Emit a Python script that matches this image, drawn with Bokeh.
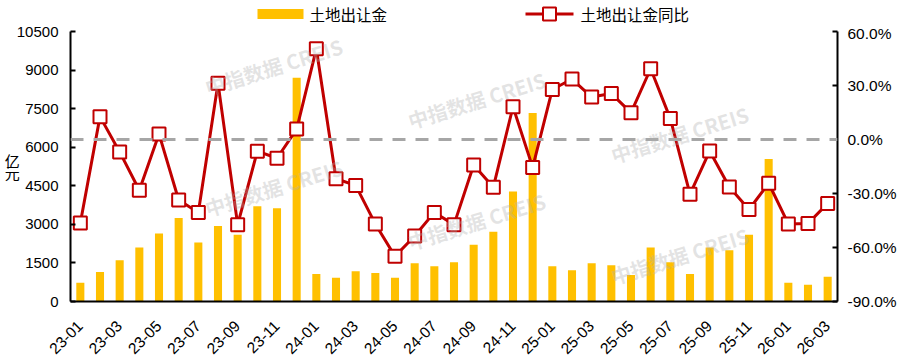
import math
from bokeh.plotting import figure
from bokeh.layouts import column
from bokeh.core.properties import value
from bokeh.models import (Range1d, LinearAxis, FixedTicker, PrintfTickFormatter,
                          Span, Label, ColumnDataSource)
from bokeh.embed import file_html
from bokeh.resources import INLINE

months = ["23-01", "23-02", "23-03", "23-04", "23-05", "23-06", "23-07", "23-08", "23-09", "23-10", "23-11", "23-12",
          "24-01", "24-02", "24-03", "24-04", "24-05", "24-06", "24-07", "24-08", "24-09", "24-10", "24-11", "24-12",
          "25-01", "25-02", "25-03", "25-04", "25-05", "25-06", "25-07", "25-08", "25-09", "25-10", "25-11", "25-12",
          "26-01", "26-02", "26-03"]
revenue = [730, 1150, 1600, 2100, 2640, 3250, 2290, 2940, 2600, 3700, 3630, 8700,
           1070, 920, 1180, 1110, 920, 1490, 1370, 1530, 2210, 2710, 4280, 7330,
           1370, 1220, 1490, 1410, 1030, 2100, 1530, 1070, 2100, 1990, 2600, 5540,
           730, 650, 960]
yoy = [-46.4, 12.7, -6.9, -28.2, 3.1, -33.6, -40.5, 31.3, -47.3, -6.5, -10.4, 5.8,
       50.4, -21.8, -25.5, -46.9, -64.9, -53.6, -40.5, -47.3, -14.2, -26.5, 18.2, -15.5,
       27.8, 33.6, 23.6, 25.5, 14.9, 39.3, 11.6, -30.4, -6.4, -26.4, -38.9, -24.3,
       -46.9, -46.7, -35.5]
left_ticks = [0, 1500, 3000, 4500, 6000, 7500, 9000, 10500]
right_ticks = [-90, -60, -30, 0, 30, 60]
bar_name = "土地出让金"
line_name = "土地出让金同比"
unit_label = "亿\n元"
watermark = "中指数据 CREIS"

W, H = 905, 361
LEG_H = 24
FL, FT, FW, FH = 70, 31, 767, 274   # frame position in page pixels
N = len(months)

FONT = "Liberation Sans"
CJK = "Noto Sans CJK SC"
BAR_C = "#FFC000"
LINE_C = "#C00000"

src = ColumnDataSource(dict(x=list(range(N)), rev=revenue, yoy=yoy))

# ---------------- legend strip (page-pixel coordinates) ----------------
lf = figure(width=W, height=LEG_H, x_range=Range1d(FL, FL + FW), y_range=Range1d(LEG_H, 0),
            x_axis_type=None, y_axis_type=None, output_backend="svg", toolbar_location=None,
            min_border_left=FL, min_border_right=W - FL - FW, min_border_top=0,
            min_border_bottom=0)
lf.xgrid.visible = False
lf.ygrid.visible = False
lf.outline_line_color = None
LEG_Y = 13.5
lf.quad(left=[257], right=[303], top=[LEG_Y - 5], bottom=[LEG_Y + 5],
        fill_color=BAR_C, line_color=None)
lf.line(x=[525, 573], y=[LEG_Y, LEG_Y], line_color=LINE_C, line_width=3)
lf.scatter(x=[549], y=[LEG_Y], marker="square", size=13, fill_color="white",
           line_color=LINE_C, line_width=2)
lf.text(x=[309, 580], y=[LEG_Y, LEG_Y], text=[bar_name, line_name],
        text_font=value(CJK), text_font_size="15.5px", text_baseline="middle",
        text_align="left", text_color="black")

# ---------------- main chart ----------------
MH = H - LEG_H
top_b = FT - LEG_H
p = figure(width=W, height=MH, x_range=Range1d(-0.5, N - 0.5), y_range=Range1d(0, 10500),
           output_backend="svg", toolbar_location=None,
           min_border_left=FL, min_border_top=top_b, min_border_right=W - FL - FW,
           min_border_bottom=MH - top_b - FH)
p.extra_y_ranges = {"pct": Range1d(-90, 60)}
p.xgrid.visible = False
p.ygrid.visible = False
p.outline_line_color = None

# left axis
ya = p.yaxis[0]
ya.ticker = FixedTicker(ticks=left_ticks)
ya.axis_line_width = 2
ya.axis_line_color = "black"
ya.major_tick_in = 5
ya.major_tick_out = 0
ya.major_tick_line_width = 2
ya.minor_tick_line_color = None
ya.major_label_standoff = 12
ya.major_label_text_font = FONT
ya.major_label_text_font_size = "15px"
ya.major_label_text_color = "black"
ya.axis_label = unit_label
ya.axis_label_orientation = "horizontal"
ya.axis_label_standoff = -6
ya.axis_label_text_font = CJK
ya.axis_label_text_font_size = "15px"
ya.axis_label_text_font_style = "normal"
ya.axis_label_text_color = "black"
ya.axis_label_text_line_height = 0.6

# right axis
ra = LinearAxis(y_range_name="pct", ticker=FixedTicker(ticks=right_ticks),
                formatter=PrintfTickFormatter(format="%.1f%%"))
ra.axis_line_width = 2
ra.axis_line_color = "black"
ra.major_tick_in = 5
ra.major_tick_out = 0
ra.major_tick_line_width = 2
ra.minor_tick_line_color = None
ra.major_label_standoff = 10
ra.major_label_text_font = FONT
ra.major_label_text_font_size = "15.5px"
ra.major_label_text_color = "black"
p.add_layout(ra, "right")

# bottom axis
xa = p.xaxis[0]
xa.ticker = FixedTicker(ticks=list(range(0, N, 2)))
xa.major_label_overrides = {i: months[i] for i in range(N)}
xa.major_label_orientation = math.pi / 4
xa.axis_line_width = 2
xa.axis_line_color = "black"
xa.major_tick_line_color = None
xa.minor_tick_line_color = None
xa.major_label_standoff = 16
xa.major_label_text_font = FONT
xa.major_label_text_font_size = "15.5px"
xa.major_label_text_color = "black"

# zero line
p.add_layout(Span(location=0, dimension="width", y_range_name="pct",
                  line_color="#A6A6A6", line_width=3, line_dash="13 10"))

p.vbar(x="x", top="rev", width=0.41, source=src, fill_color=BAR_C, line_color=None)
p.line(x="x", y="yoy", source=src, y_range_name="pct", line_color=LINE_C, line_width=3)
p.scatter(x="x", y="yoy", source=src, y_range_name="pct", marker="square", size=13,
          fill_color="white", line_color=LINE_C, line_width=2)

# pixel (page) -> data helpers
def dx(px):
    return (px - FL) / FW * N - 0.5

def dy(py):
    return (FT + FH - py) / FH * 10500

# watermarks (only those lying within the plotting area)
wm_pos = [(205, 88), (205, 211), (408, 122), (408, 245), (611, 157), (611, 280)]
for cx, cy in wm_pos:
    p.add_layout(Label(x=dx(cx), y=dy(cy), text=watermark, angle=0.30,
                       text_align="left", text_baseline="middle", text_font=CJK,
                       text_font_size="20px", text_font_style="bold",
                       text_color="#B0B0B0", text_alpha=0.35))

open("out.html", "w").write(file_html(column(lf, p), INLINE))
